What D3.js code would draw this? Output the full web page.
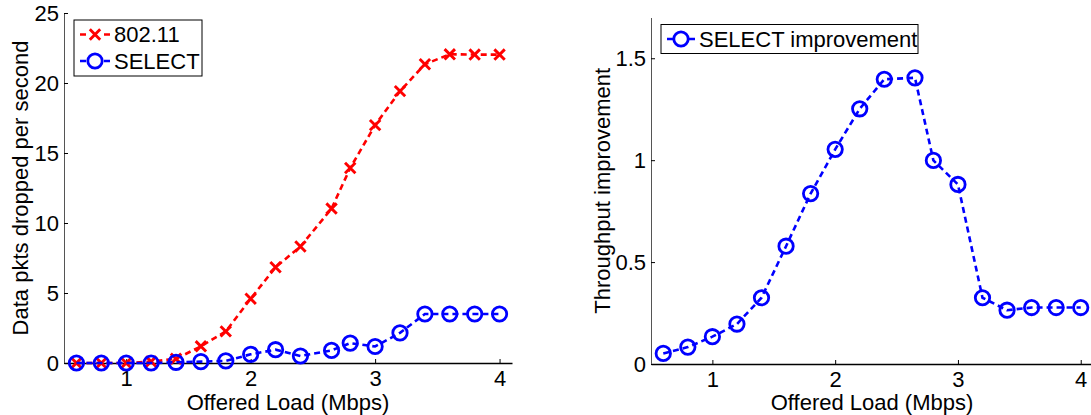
<!DOCTYPE html>
<html>
<head>
<meta charset="utf-8">
<script src="https://cdn.jsdelivr.net/npm/d3@7"></script>
<style>
  body { margin: 0; background: #fff; }
  svg { display: block; font-family: "Liberation Sans", Arial, sans-serif; }
</style>
</head>
<body>
<div id="chart"></div>
<script>
// offered load (Mbps), shared by both panels
const loads = [0.6, 0.8, 1.0, 1.2, 1.4, 1.6, 1.8, 2.0, 2.2, 2.4, 2.65, 2.8, 3.0, 3.2, 3.4, 3.6, 3.8, 4.0];
// left panel: data pkts dropped per second
const drops80211 = [0, 0, 0, 0.1, 0.3, 1.19, 2.26, 4.59, 6.84, 8.32, 11.03, 13.93, 16.99, 19.42, 21.34, 22.05, 22.03, 22.03];
const dropsSelect = [0, 0, 0, 0, 0.05, 0.1, 0.15, 0.62, 0.95, 0.5, 0.9, 1.42, 1.18, 2.15, 3.5, 3.5, 3.5, 3.5];
// right panel: throughput improvement
const improvement = [0.052, 0.083, 0.134, 0.196, 0.325, 0.578, 0.836, 1.053, 1.252, 1.397, 1.404, 0.999, 0.881, 0.325, 0.264, 0.277, 0.277, 0.277];

const xTicks = [1, 2, 3, 4];
const leftYTicks = [0, 5, 10, 15, 20, 25];
const rightYTicks = [0, 0.5, 1, 1.5];

const W = 1091, H = 415;
const FONT = 22;
const RED = '#ff0000', BLUE = '#0000ff';

const svg = d3.select('#chart').append('svg')
  .attr('width', W).attr('height', H);
svg.append('rect').attr('width', W).attr('height', H).attr('fill', '#fff');

function drawAxes(g, x, y, yTicks, yLabel, yLabelX) {
  const [x0, x1] = x.range();
  const [y0, y1] = y.range();

  const xa = g.append('g').attr('transform', `translate(0,${y0})`)
    .call(d3.axisBottom(x).tickValues(xTicks).tickFormat(d3.format('~g'))
      .tickSizeInner(-4).tickSizeOuter(0).tickPadding(7));
  xa.select('.domain').attr('stroke', '#000').attr('stroke-width', 1.5);

  const ya = g.append('g').attr('transform', `translate(${x0},0)`)
    .call(d3.axisLeft(y).tickValues(yTicks).tickFormat(d3.format('~g'))
      .tickSizeInner(-4).tickSizeOuter(0).tickPadding(5));
  ya.select('.domain').attr('stroke', '#555').attr('stroke-width', 1);

  g.selectAll('.tick text').attr('font-size', FONT).attr('fill', '#000')
    .attr('font-family', '"Liberation Sans", Arial, sans-serif');

  g.append('text')
    .attr('x', (x0 + x1) / 2).attr('y', 410)
    .attr('text-anchor', 'middle').attr('font-size', FONT)
    .text('Offered Load (Mbps)');

  g.append('text')
    .attr('transform', `translate(${yLabelX},${(y0 + y1) / 2}) rotate(-90)`)
    .attr('text-anchor', 'middle').attr('font-size', FONT)
    .text(yLabel);
}

function drawSeries(g, x, y, vals, color, marker) {
  const pts = loads.map((l, i) => [x(l), y(vals[i])]);
  g.append('path')
    .attr('d', d3.line()(pts))
    .attr('fill', 'none').attr('stroke', color)
    .attr('stroke-width', 2.6).attr('stroke-dasharray', '6,4');
  pts.forEach(p => drawMarker(g, p[0], p[1], color, marker));
}

function drawMarker(g, cx, cy, color, marker) {
  if (marker === 'o') {
    g.append('circle').attr('cx', cx).attr('cy', cy).attr('r', 7.2)
      .attr('fill', 'none').attr('stroke', color).attr('stroke-width', 2.8);
  } else {
    const s = 5.2;
    g.append('path')
      .attr('d', `M${cx - s},${cy - s}L${cx + s},${cy + s}M${cx - s},${cy + s}L${cx + s},${cy - s}`)
      .attr('stroke', color).attr('stroke-width', 2.9).attr('fill', 'none');
  }
}

function legendRow(g, x1, x2, y, color, marker, label) {
  const mid = (x1 + x2) / 2;
  g.append('line').attr('x1', x1).attr('x2', x2).attr('y1', y).attr('y2', y)
    .attr('stroke', color).attr('stroke-width', 2.6)
    .attr('stroke-dasharray', `6,${x2 - x1 - 12},6`);
  drawMarker(g, mid, y, color, marker);
  g.append('text').attr('x', x2 + 4).attr('y', y).attr('dy', '0.36em')
    .attr('font-size', FONT).text(label);
}

// ---- left panel ----
const xL = d3.scaleLinear().domain([0.5, 4.1]).range([64, 512]);
const yL = d3.scaleLinear().domain([0, 25]).range([363, 13]);
const gL = svg.append('g');
drawAxes(gL, xL, yL, leftYTicks, 'Data pkts dropped per second', 28);
drawSeries(gL, xL, yL, drops80211, RED, 'x');
drawSeries(gL, xL, yL, dropsSelect, BLUE, 'o');

const legL = gL.append('g');
legL.append('rect').attr('x', 74).attr('y', 20).attr('width', 128).attr('height', 56)
  .attr('fill', '#fff').attr('stroke', '#000').attr('stroke-width', 1);
legendRow(legL, 80, 110, 34.5, RED, 'x', '802.11');
legendRow(legL, 80, 110, 61, BLUE, 'o', 'SELECT');

// ---- right panel ----
const xR = d3.scaleLinear().domain([0.5, 4.1]).range([651, 1093]);
const yR = d3.scaleLinear().domain([0, 1.7]).range([364, 17.5]);
const gR = svg.append('g');
drawAxes(gR, xR, yR, rightYTicks, 'Throughput improvement', 610);
drawSeries(gR, xR, yR, improvement, BLUE, 'o');

const legR = gR.append('g');
legR.append('rect').attr('x', 661).attr('y', 24.5).attr('width', 257).attr('height', 29)
  .attr('fill', '#fff').attr('stroke', '#000').attr('stroke-width', 1);
legendRow(legR, 667, 695, 39, BLUE, 'o', 'SELECT improvement');
</script>
</body>
</html>
